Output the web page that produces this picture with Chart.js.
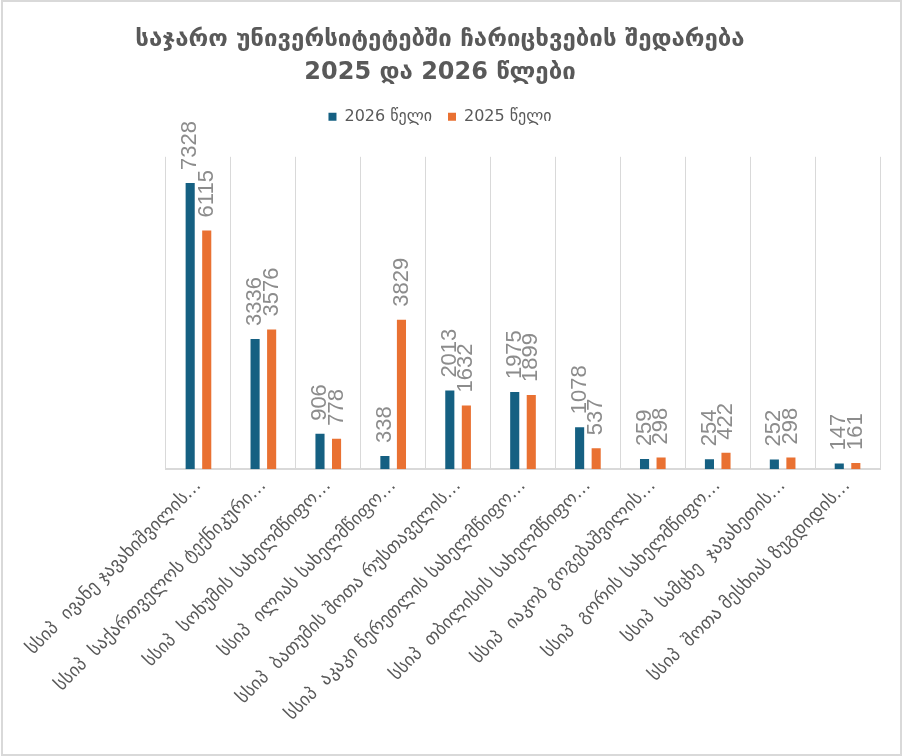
<!DOCTYPE html>
<html>
<head>
<meta charset="utf-8">
<script src="https://cdn.jsdelivr.net/npm/chart.js@4.4.1/dist/chart.umd.min.js"></script>
<style>
  html, body { margin: 0; padding: 0; background: #fff; }
  #wrap { width: 902px; height: 756px; position: relative; }
</style>
</head>
<body>
<div id="wrap"><canvas id="enrollment"></canvas></div>
<script>
// universities (labels as they are cut in the original chart)
const universities = [
    'სსიპ  ივანე ჯავახიშვილის…',
    'სსიპ  საქართველოს ტექნიკური…',
    'სსიპ  სოხუმის სახელმწიფო…',
    'სსიპ  ილიას სახელმწიფო…',
    'სსიპ  ბათუმის შოთა რუსთაველის…',
    'სსიპ  აკაკი წერეთლის სახელმწიფო…',
    'სსიპ  თბილისის სახელმწიფო…',
    'სსიპ  იაკობ გოგებაშვილის…',
    'სსიპ  გორის სახელმწიფო…',
    'სსიპ  სამცხე  ჯავახეთის…',
    'სსიპ  შოთა მესხიას ზუგდიდის…'
];
const enrolled_2026 = [7328, 3336, 906, 338, 2013, 1975, 1078, 259, 254, 252, 147];
const enrolled_2025 = [6115, 3576, 778, 3829, 1632, 1899, 537, 298, 422, 298, 161];
const title_lines = ['საჯარო უნივერსიტეტებში ჩარიცხვების შედარება', '2025 და 2026 წლები'];

// value labels standing on top of each bar, rotated
const bar_value_labels = {
    id: 'barValueLabels',
    afterDatasetsDraw(chart) {
        let ctx = chart.ctx;
        ctx.save();
        ctx.font = '22px "Liberation Sans", Arial, sans-serif';
        ctx.fillStyle = '#8c8c8c';
        ctx.textAlign = 'left';
        ctx.textBaseline = 'middle';
        chart.data.datasets.forEach(function (ds, i) {
            chart.getDatasetMeta(i).data.forEach(function (bar, j) {
                ctx.save();
                ctx.translate(bar.x, bar.y - 13);
                ctx.rotate(-Math.PI / 2);
                ctx.fillText(String(ds.data[j]), 0, 0);
                ctx.restore();
            });
        });
        ctx.restore();
    }
};

// leave some room between the legend and the bars
const legend_gap = {
    id: 'legendGap',
    afterInit(chart) {
        let legend = chart.legend;
        let fit = legend.fit;
        legend.fit = function () {
            fit.call(this);
            this.height += 22;
        };
    }
};

// thin frame round the whole chart
const chart_frame = {
    id: 'chartFrame',
    afterDraw(chart) {
        let ctx = chart.ctx;
        ctx.save();
        ctx.strokeStyle = '#d9d9d9';
        ctx.lineWidth = 2;
        ctx.strokeRect(2, 1, chart.width - 3, chart.height - 2);
        ctx.restore();
    }
};

let enrollment_param = {
    type: 'bar',
    data: {
        labels: universities,
        datasets: [{
            label: '2026 წელი',
            data: enrolled_2026,
            backgroundColor: '#156082',
        }, {
            label: '2025 წელი',
            data: enrolled_2025,
            backgroundColor: '#E97132',
        }]
    },
    options: {
        responsive: false,
        animation: false,
        devicePixelRatio: 1,
        categoryPercentage: 0.51,
        barPercentage: 0.55,
        layout: { padding: { top: 16, right: 22, bottom: 25, left: 0 } },
        plugins: {
            title: {
                display: true,
                text: title_lines,
                color: '#595959',
                font: { family: '"DejaVu Sans", sans-serif', size: 24, weight: 'bold', lineHeight: 1.35 },
                padding: { top: 8, bottom: 4 }
            },
            legend: {
                position: 'top',
                labels: {
                    color: '#595959',
                    boxWidth: 8,
                    boxHeight: 8,
                    padding: 16,
                    font: { family: '"Liberation Sans Narrow", "DejaVu Sans", sans-serif', size: 16 }
                }
            },
            tooltip: { enabled: false }
        },
        scales: {
            x: {
                grid: { color: '#d9d9d9', drawTicks: false, offset: true },
                border: { color: '#d9d9d9', width: 2 },
                ticks: {
                    color: '#595959',
                    autoSkip: false,
                    minRotation: 45,
                    maxRotation: 45,
                    padding: 6,
                    font: { family: '"DejaVu Sans", sans-serif', size: 18 }
                },
                afterFit: function (scale) {
                    scale.paddingLeft = Math.max(scale.paddingLeft, 166);
                }
            },
            y: {
                display: false,
                min: 0,
                max: 8000
            }
        }
    },
    plugins: [bar_value_labels, legend_gap, chart_frame]
};

let canvas = document.getElementById('enrollment');
canvas.width = 902;
canvas.height = 756;
let enrollment = new Chart(canvas, enrollment_param);
</script>
</body>
</html>
